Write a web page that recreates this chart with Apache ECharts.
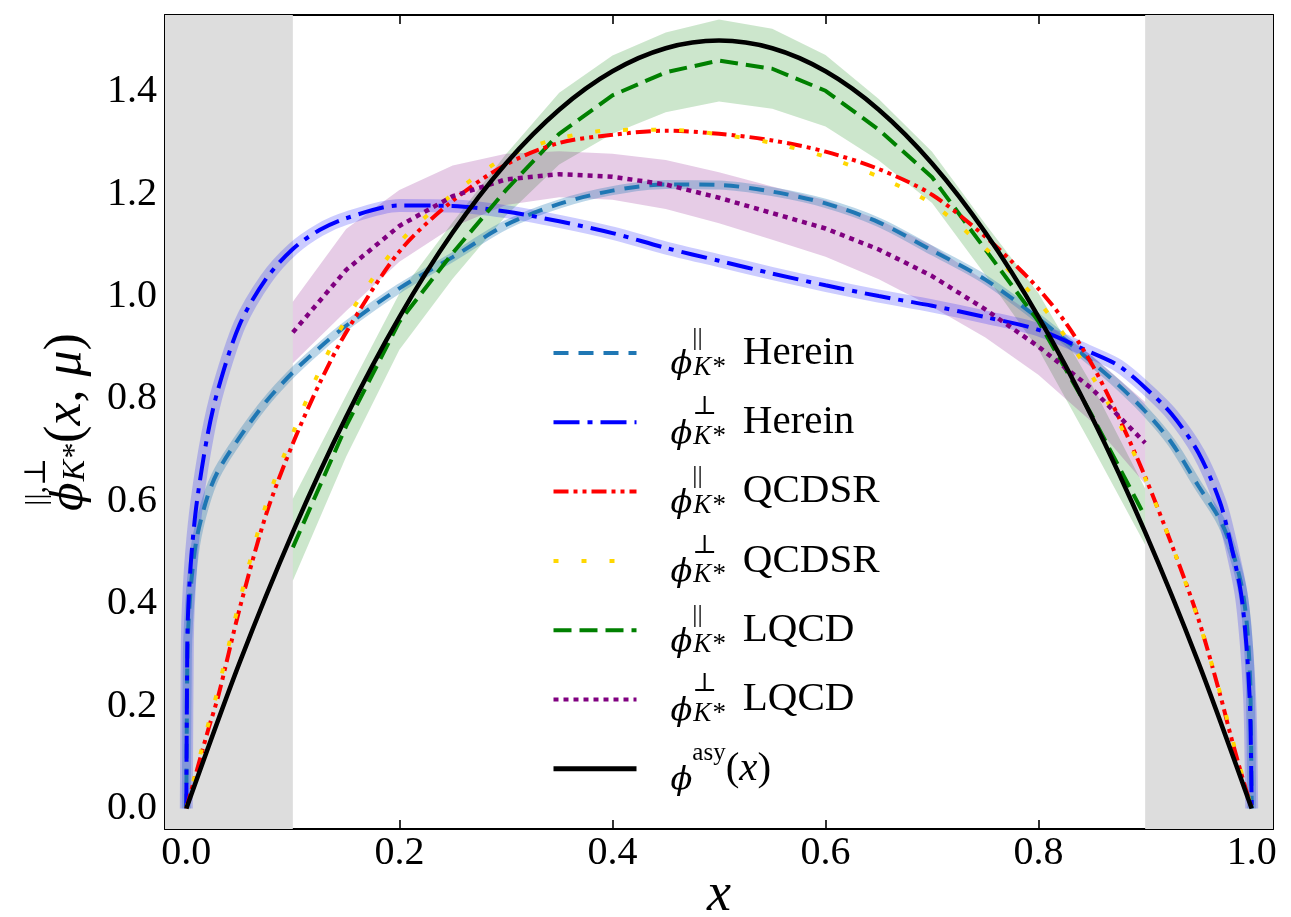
<!DOCTYPE html>
<html>
<head>
<meta charset="utf-8">
<title>K* distribution amplitudes</title>
<script src="https://cdn.jsdelivr.net/npm/echarts@6/dist/echarts.min.js"></script>
<style>
html, body { margin: 0; padding: 0; background: #fff; }
#main { width: 1291px; height: 917px; }
</style>
</head>
<body>
<div id="main"></div>
<script>
// axis ranges and ticks
var xRange = [-0.02, 1.02];
var yRange = [-0.04, 1.55];
var xTicks = [0, 0.2, 0.4, 0.6, 0.8, 1.0];
var yTicks = [0, 0.2, 0.4, 0.6, 0.8, 1.0, 1.2, 1.4];
var shadeLeft = [-0.02, 0.1];
var shadeRight = [0.9, 1.02];

// this work (Herein)
var xHerein = [0, 0.001, 0.002, 0.005, 0.01, 0.02, 0.03, 0.05, 0.075, 0.1, 0.125, 0.15, 0.2, 0.25, 0.3, 0.35, 0.4, 0.45, 0.5,
  0.55, 0.6, 0.65, 0.7, 0.75, 0.8, 0.85, 0.875, 0.9, 0.925, 0.95, 0.97, 0.98, 0.99, 0.995, 0.998, 0.999, 1.0];
var parHerein = [0, 0.3, 0.36, 0.45, 0.53, 0.61, 0.66, 0.725, 0.795, 0.852, 0.9, 0.943, 1.016, 1.077, 1.14, 1.181, 1.207, 1.219, 1.218,
  1.205, 1.182, 1.145, 1.09, 1.033, 0.957, 0.872, 0.827, 0.776, 0.714, 0.63, 0.565, 0.515, 0.44, 0.37, 0.28, 0.21, 0];
var perpHerein = [0, 0.33, 0.4, 0.5, 0.6, 0.73, 0.82, 0.945, 1.035, 1.093, 1.13, 1.153, 1.178, 1.177, 1.166, 1.147, 1.124, 1.095, 1.07,
  1.045, 1.022, 1.001, 0.982, 0.96, 0.935, 0.89, 0.865, 0.822, 0.77, 0.695, 0.6, 0.52, 0.42, 0.32, 0.22, 0.15, 0];

// QCD sum rules
var xQCDSR = [0, 0.01, 0.02, 0.03, 0.05, 0.075, 0.1, 0.125, 0.15, 0.2, 0.25, 0.3, 0.35, 0.4, 0.45, 0.5,
  0.55, 0.6, 0.65, 0.7, 0.75, 0.775, 0.8, 0.825, 0.85, 0.875, 0.9, 0.925, 0.95, 0.97, 0.98, 0.99, 1.0];
var parQCDSR = [0, 0.075, 0.15, 0.22, 0.39, 0.575, 0.713, 0.83, 0.93, 1.088, 1.187, 1.258, 1.3, 1.316, 1.324, 1.318,
  1.305, 1.283, 1.249, 1.199, 1.117, 1.068, 1.015, 0.95, 0.868, 0.765, 0.648, 0.515, 0.37, 0.225, 0.145, 0.07, 0];
var perpQCDSR = [0, 0.08, 0.16, 0.235, 0.405, 0.595, 0.733, 0.855, 0.955, 1.105, 1.2, 1.272, 1.309, 1.325, 1.326, 1.317,
  1.3, 1.273, 1.234, 1.181, 1.094, 1.045, 0.99, 0.922, 0.845, 0.755, 0.645, 0.515, 0.368, 0.228, 0.15, 0.073, 0];

// lattice QCD with bands
var xLQCD = [0.1, 0.15, 0.2, 0.25, 0.3, 0.35, 0.4, 0.45, 0.5, 0.55, 0.6, 0.65, 0.7, 0.75, 0.8, 0.85, 0.9];
var parLQCD = [0.51, 0.747, 0.951, 1.085, 1.208, 1.318, 1.393, 1.438, 1.461, 1.445, 1.402, 1.326, 1.233, 1.092, 0.951, 0.768, 0.57];
var parLQCDLow = [0.445, 0.687, 0.896, 1.035, 1.158, 1.258, 1.318, 1.36, 1.381, 1.367, 1.332, 1.266, 1.183, 1.042, 0.896, 0.708, 0.515];
var parLQCDHigh = [0.605, 0.807, 1.006, 1.145, 1.278, 1.398, 1.471, 1.516, 1.541, 1.523, 1.472, 1.386, 1.283, 1.142, 1.006, 0.828, 0.625];
var perpLQCD = [0.93, 1.052, 1.138, 1.196, 1.229, 1.239, 1.234, 1.219, 1.193, 1.163, 1.133, 1.092, 1.04, 0.975, 0.902, 0.82, 0.714];
var perpLQCDLow = [0.87, 0.972, 1.068, 1.136, 1.179, 1.194, 1.189, 1.171, 1.143, 1.111, 1.078, 1.034, 0.98, 0.92, 0.847, 0.755, 0.634];
var perpLQCDHigh = [0.99, 1.132, 1.208, 1.256, 1.279, 1.284, 1.279, 1.267, 1.243, 1.215, 1.188, 1.15, 1.1, 1.03, 0.957, 0.885, 0.794];

// asymptotic form
var xAsy = [0, 0.05, 0.1, 0.15, 0.2, 0.25, 0.3, 0.35, 0.4, 0.45, 0.5, 0.55, 0.6, 0.65, 0.7, 0.75, 0.8, 0.85, 0.9, 0.95, 1.0];
var asy = [0, 0.285, 0.54, 0.765, 0.96, 1.125, 1.26, 1.365, 1.44, 1.485, 1.5, 1.485, 1.44, 1.365, 1.26, 1.125, 0.96, 0.765, 0.54, 0.285, 0];

var SERIF = "'Liberation Serif', 'DejaVu Serif', serif";
var GREEK = "'DejaVu Serif', serif";

var legendText = {
  parHerein: '{gap| }{phi|ϕ}{sup|||}{sub|K*}{sp| }{txt|Herein}',
  perpHerein: '{gap| }{phi|ϕ}{sup|⊥}{sub|K*}{sp| }{txt|Herein}',
  parQCDSR: '{gap| }{phi|ϕ}{sup|||}{sub|K*}{sp| }{txt|QCDSR}',
  perpQCDSR: '{gap| }{phi|ϕ}{sup|⊥}{sub|K*}{sp| }{txt|QCDSR}',
  parLQCD: '{gap| }{phi|ϕ}{sup|||}{sub|K*}{sp| }{txt|LQCD}',
  perpLQCD: '{gap| }{phi|ϕ}{sup|⊥}{sub|K*}{sp| }{txt|LQCD}',
  asy: '{gap| }{phi|ϕ}{asy|asy}{txt|(}{it|x}{txt|)}'
};

function pairs(xs, ys) {
  return xs.map(function (x, i) { return [x, ys[i]]; });
}

function curve(name, xs, ys, color, width, dash, smooth, z) {
  return {
    name: name,
    type: 'line',
    data: pairs(xs, ys),
    symbol: 'none',
    showSymbol: false,
    smooth: smooth,
    silent: true,
    z: z,
    lineStyle: { color: color, width: width, type: dash },
    itemStyle: { color: color }
  };
}

function halo(xs, ys, color, width) {
  return {
    type: 'line',
    data: pairs(xs, ys),
    symbol: 'none',
    smooth: 0.3,
    silent: true,
    z: 2,
    lineStyle: { color: color, width: width, join: 'round', cap: 'butt' }
  };
}

function band(xs, lo, hi, color) {
  return {
    type: 'custom',
    silent: true,
    z: 2,
    data: [[xs[0], lo[0]]],
    renderItem: function (params, api) {
      var pts = [];
      for (var i = 0; i < xs.length; i++) pts.push(api.coord([xs[i], hi[i]]));
      for (var j = xs.length - 1; j >= 0; j--) pts.push(api.coord([xs[j], lo[j]]));
      return { type: 'polygon', shape: { points: pts }, style: { fill: color } };
    }
  };
}

var tickStyle = { inside: true, length: 9, lineStyle: { color: '#000', width: 1.6 } };
var lineAxis = { show: true, onZero: false, lineStyle: { color: '#000', width: 2 } };

var chart = echarts.init(document.getElementById('main'));

var asySeries = curve('asy', xAsy, asy, '#000000', 4.5, 'solid', 0.3, 6);
asySeries.markArea = {
  silent: true,
  itemStyle: { color: '#dddddd' },
  label: { show: false },
  data: [
    [{ xAxis: shadeLeft[0] }, { xAxis: shadeLeft[1] }],
    [{ xAxis: shadeRight[0] }, { xAxis: shadeRight[1] }]
  ]
};

var option = {
  animation: false,
  backgroundColor: '#ffffff',
  grid: { left: 165, right: 18, top: 15, bottom: 88, containLabel: false, outerBoundsMode: 'none' },
  xAxis: [{
    type: 'value', min: xRange[0], max: xRange[1],
    position: 'bottom',
    splitLine: { show: false },
    axisLine: lineAxis,
    axisTick: Object.assign({ customValues: xTicks }, tickStyle),
    axisLabel: {
      customValues: xTicks, margin: 4,
      fontFamily: SERIF, fontSize: 40, color: '#000',
      formatter: function (v) { return v.toFixed(1); }
    },
    name: 'x', nameLocation: 'middle', nameGap: 40, nameMoveOverlap: false,
    nameTextStyle: { fontFamily: SERIF, fontStyle: 'italic', fontSize: 54, lineHeight: 54, color: '#000' }
  }, {
    type: 'value', min: xRange[0], max: xRange[1],
    position: 'top',
    splitLine: { show: false },
    axisLine: lineAxis,
    axisTick: Object.assign({ customValues: xTicks }, tickStyle),
    axisLabel: { show: false }
  }],
  yAxis: [{
    type: 'value', min: yRange[0], max: yRange[1],
    position: 'left',
    splitLine: { show: false },
    axisLine: lineAxis,
    axisTick: Object.assign({ customValues: yTicks }, tickStyle),
    axisLabel: {
      customValues: yTicks, margin: 8,
      fontFamily: SERIF, fontSize: 40, color: '#000',
      formatter: function (v) { return v.toFixed(1); }
    },
    name: '{yphi|ϕ}{ysup|||,⊥}{ysub|K*}{yfill| }{ytxt|(}{yit|x}{ytxt|, }{yit|μ}{ytxt|)}',
    nameLocation: 'middle', nameRotate: 90, nameGap: 73, nameMoveOverlap: false,
    nameTextStyle: {
      color: '#000', fontFamily: SERIF,
      rich: {
        yphi: { fontFamily: GREEK, fontStyle: 'italic', fontSize: 42, lineHeight: 37, verticalAlign: 'bottom' },
        ysup: { fontFamily: SERIF, fontSize: 30, lineHeight: 18, verticalAlign: 'top', width: 1 },
        ysub: { fontFamily: SERIF, fontStyle: 'italic', fontSize: 32, lineHeight: 25, verticalAlign: 'bottom' },
        yfill: { fontSize: 10, lineHeight: 70, width: 1 },
        ytxt: { fontFamily: SERIF, fontSize: 52, lineHeight: 56, verticalAlign: 'bottom' },
        yit: { fontFamily: SERIF, fontStyle: 'italic', fontSize: 52, lineHeight: 56, verticalAlign: 'bottom' }
      }
    }
  }, {
    type: 'value', min: yRange[0], max: yRange[1],
    position: 'right',
    splitLine: { show: false },
    axisLine: lineAxis,
    axisTick: Object.assign({ customValues: yTicks }, tickStyle),
    axisLabel: { show: false }
  }],
  legend: {
    orient: 'vertical',
    left: 551, top: 325, padding: 0,
    itemWidth: 83, itemHeight: 14, itemGap: 13.3,
    selectedMode: false,
    lineStyle: { width: 4 },
    itemStyle: { color: 'rgba(0,0,0,0)', opacity: 0, borderWidth: 0 },
    data: [
      { name: 'parHerein' },
      { name: 'perpHerein' },
      { name: 'parQCDSR' },
      { name: 'perpQCDSR' },
      { name: 'parLQCD' },
      { name: 'perpLQCD' },
      { name: 'asy', lineStyle: { width: 5 } }
    ],
    formatter: function (name) { return legendText[name]; },
    textStyle: {
      color: '#000', fontFamily: SERIF,
      rich: {
        gap: { fontSize: 10, width: 29 },
        phi: { fontFamily: GREEK, fontStyle: 'italic', fontSize: 32, lineHeight: 38, verticalAlign: 'bottom' },
        sup: { fontFamily: SERIF, fontSize: 26, lineHeight: 36, verticalAlign: 'top', width: 1 },
        sub: { fontFamily: SERIF, fontStyle: 'italic', fontSize: 27, lineHeight: 22, verticalAlign: 'bottom' },
        asy: { fontFamily: SERIF, fontSize: 25, lineHeight: 38, verticalAlign: 'top' },
        sp: { fontSize: 10, width: 18 },
        txt: { fontFamily: SERIF, fontSize: 41, lineHeight: 56, verticalAlign: 'middle' },
        it: { fontFamily: SERIF, fontStyle: 'italic', fontSize: 41, lineHeight: 56, verticalAlign: 'middle' }
      }
    }
  },
  series: [
    band(xLQCD, parLQCDLow, parLQCDHigh, 'rgba(0,128,0,0.2)'),
    band(xLQCD, perpLQCDLow, perpLQCDHigh, 'rgba(128,0,128,0.2)'),
    halo(xHerein, parHerein, 'rgba(31,119,180,0.3)', 9),
    halo(xHerein, perpHerein, 'rgba(0,0,255,0.2)', 13),
    curve('parHerein', xHerein, parHerein, '#1f77b4', 4, [15, 10], 0.3, 3),
    curve('perpHerein', xHerein, perpHerein, '#0000ff', 4, [26, 8, 5, 8], 0.3, 3),
    curve('parLQCD', xLQCD, parLQCD, '#008000', 4, [18, 8], false, 3),
    curve('parQCDSR', xQCDSR, parQCDSR, '#ff0000', 4, [15, 5, 4, 5, 4, 5], 0.3, 4),
    curve('perpQCDSR', xQCDSR, perpQCDSR, '#ffd700', 4, [5, 23], 0.3, 5),
    curve('perpLQCD', xLQCD, perpLQCD, '#800080', 4.5, [5, 5], false, 5),
    asySeries
  ]
};

chart.setOption(option);
</script>
</body>
</html>
